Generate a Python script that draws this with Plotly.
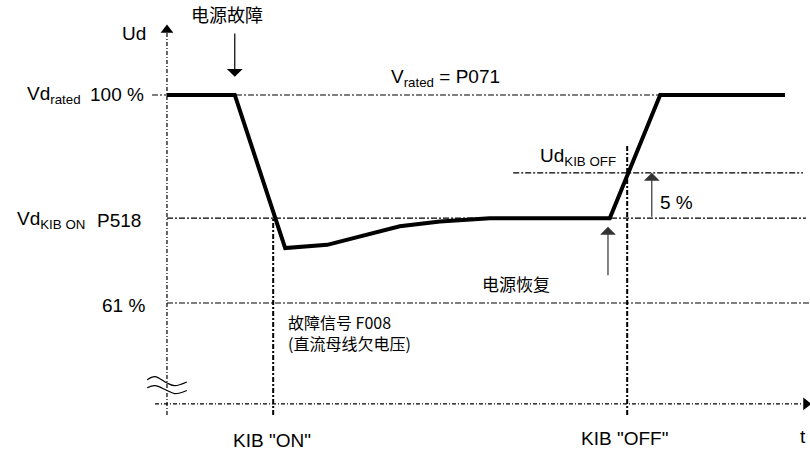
import plotly.graph_objects as go

# DC link voltage curve (time in arbitrary units, Ud in % of rated)
t_curve = [0, 11.3, 19.7, 26.7, 38.8, 45.5, 53.8, 73.8, 82.2, 103]
ud_curve = [100, 100, 71.3, 71.9, 75.4, 76.3, 76.9, 76.9, 100, 100]

# levels
ud_rated = 100
ud_kib_on = 76.9
ud_kib_off = 85.4
ud_61 = 61
ud_axis = 42.1

# event times
t_fault = 11.3
t_kib_on = 17.7
t_restore = 73.5
t_kib_off = 76.7

# "broken axis" squiggle
sq_t = [-3.3, -2.0, 0.0, 1.3, 3.3]
sq_upper = [46.6, 47.2, 46.0, 45.5, 46.2]
sq_lower = [45.1, 45.5, 44.6, 44.0, 44.6]

LAT = "Liberation Sans, Arial, sans-serif"
CJK = "Noto Sans CJK SC, sans-serif"

fig = go.Figure()

def hline(y, x0, x1, dash="6px,2px,2px,2px", w=1.2):
    fig.add_shape(type="line", x0=x0, x1=x1, y0=y, y1=y, layer="below",
                  line=dict(color="black", width=w, dash=dash))

def vline(x, y0, y1, dash="5px,2px,2px,2px", w=1.2):
    fig.add_shape(type="line", x0=x, x1=x, y0=y0, y1=y1, layer="below",
                  line=dict(color="black", width=w, dash=dash))

# axes
vline(0, 40, 112, dash="4px,2px,1px,2px", w=1.2)
hline(ud_axis, -2, 106, dash="4px,2px,1px,2px", w=1.2)
# reference lines
hline(ud_rated, -2.5, 103)
hline(ud_kib_on, 0, 106.5)
hline(ud_61, 0, 107)
hline(ud_kib_off, 57.7, 106)
vline(t_kib_on, 40, ud_kib_on, w=2)
vline(t_kib_off, 40, 90.6, w=2)

# squiggle
for ys in (sq_upper, sq_lower):
    fig.add_trace(go.Scatter(x=sq_t, y=ys, mode="lines", line=dict(color="black", width=1.2, shape="spline"),
                             hoverinfo="skip", showlegend=False))

# voltage curve
fig.add_trace(go.Scatter(x=t_curve, y=ud_curve, mode="lines", line=dict(color="black", width=4),
                         hoverinfo="skip", showlegend=False))

# axis arrowheads
fig.add_trace(go.Scatter(x=[0], y=[112.2], mode="markers", marker=dict(symbol="triangle-up", size=11, color="black"),
                         hoverinfo="skip", showlegend=False))
fig.add_trace(go.Scatter(x=[106.5], y=[ud_axis], mode="markers", marker=dict(symbol="triangle-right", size=11, color="black"),
                         hoverinfo="skip", showlegend=False))

def arrow(x, y_tail, y_tip, color="black"):
    fig.add_annotation(x=x, y=y_tip, ax=x, ay=y_tail, axref="x", ayref="y", text="",
                       showarrow=True, arrowhead=1, arrowsize=2.2, arrowwidth=1.2, arrowcolor=color)

arrow(t_fault, 111.8, 103.4)
arrow(t_restore, 65.9, ud_kib_on - 1.6, color="#333")
arrow(80.8, ud_kib_on, ud_kib_off, color="#333")

def label(x, y, text, anchor="left", font=LAT, size=19):
    fig.add_annotation(x=x, y=y, text=text, showarrow=False, xanchor=anchor, yanchor="middle", align="left",
                       font=dict(family=font, size=size, color="black"))

label(-3.2, 111.6, "Ud", "right")
label(10.0, 115.2, "电源故障", "center", CJK, 18)
label(-23.7, 100, "Vd<sub>rated</sub>")
label(-3.5, 100, "100 %", "right")
label(46.5, 103.2, "V<sub>rated</sub> = P071", "center")
label(-25.3, 76.5, "Vd<sub>KIB ON</sub>")
label(-4.0, 76.5, "P518", "right")
label(61.8, 88.4, "Ud<sub>KIB OFF</sub>")
label(81.8, 79.8, "5 %")
label(-3.3, 60.6, "61 %", "right")
label(19.9, 55.4, "故障信号 F008<br>(直流母线欠电压)", font=CJK, size=16)
label(52.2, 64.6, "电源恢复", font=CJK, size=17)
label(17.5, 35.3, 'KIB "ON"', "center")
label(76.3, 35.6, 'KIB "OFF"', "center")
label(106, 35.9, "t", "center")

fig.update_xaxes(range=[-27.83, 107.17], visible=False, fixedrange=True)
fig.update_yaxes(range=[32.5, 117.81], visible=False, fixedrange=True)
fig.update_layout(width=810, height=455, autosize=False, margin=dict(l=0, r=0, t=0, b=0),
                  plot_bgcolor="white", paper_bgcolor="white", showlegend=False)

# drop the default 8px body margin so the figure fills the window
fig.write_html("out.html", config={"displayModeBar": False},
               post_script="document.body.style.margin='0';document.body.style.overflow='hidden';")
